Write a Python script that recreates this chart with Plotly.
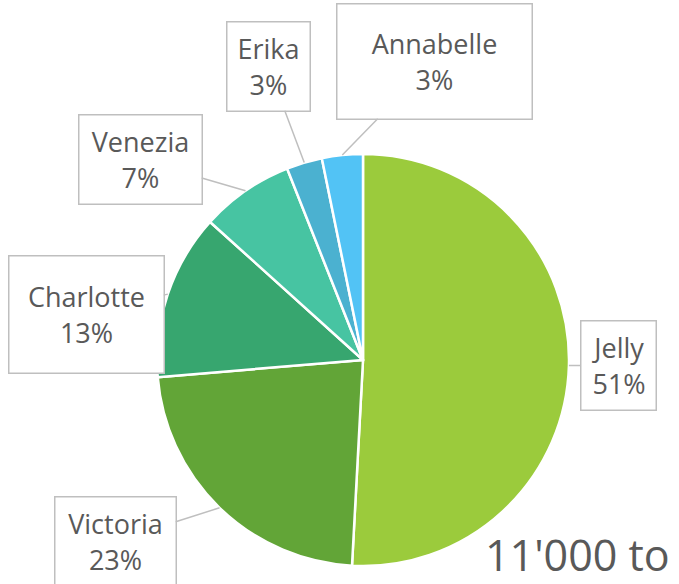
import math
import plotly.graph_objects as go

# ---- data ----
labels = ["Jelly", "Victoria", "Charlotte", "Venezia", "Erika", "Annabelle"]
values = [50.8, 22.8, 13.0, 7.3, 2.8, 3.2]
colors = ["#9BCB3C", "#62A537", "#37A66F", "#47C4A2", "#4BB1D0", "#52C3F5"]
title_text = "11'000 to"

# ---- layout / style constants ----
W, H = 679, 584
CX, CY, R = 363, 360, 206          # pie centre and radius in page pixels
# callout box centres (px) and sizes
box_center = {"Jelly": (618, 365), "Victoria": (115, 541), "Charlotte": (86, 314),
              "Venezia": (140, 160), "Erika": (268, 66), "Annabelle": (434, 61)}
box_size = {"Jelly": (72, 86), "Victoria": (118, 86), "Charlotte": (152, 114),
            "Venezia": (120, 86), "Erika": (80, 86), "Annabelle": (192, 112)}
TEXT = "#595959"
BORDER = "#BFBFBF"
FONT = "Open Sans"

fig = go.Figure(go.Pie(
    labels=labels, values=values, sort=False, direction="clockwise", rotation=0,
    marker=dict(colors=colors, line=dict(color="white", width=2.5)),
    textinfo="none", hoverinfo="label+percent", showlegend=False,
    domain=dict(x=[(CX - R) / W, (CX + R) / W], y=[(H - CY - R) / H, (H - CY + R) / H]),
))

total = sum(values)
annotations = []
cum = 0.0
for lab, v in zip(labels, values):
    mid = (cum + v / 2) / total * 2 * math.pi   # clockwise from 12 o'clock
    cum += v
    px = CX + R * math.sin(mid)
    py = CY - R * math.cos(mid)
    bx, by = box_center[lab]
    bw, bh = box_size[lab]
    pct = round(100 * v / total)
    annotations.append(dict(
        x=px / W, y=1 - py / H, xref="paper", yref="paper",
        ax=bx - px, ay=by - py, axref="pixel", ayref="pixel",
        text=f"{lab}<br>{pct}%", showarrow=True, arrowhead=0, arrowwidth=1.5,
        arrowcolor=BORDER, standoff=0, startstandoff=0,
        width=bw, height=bh, bgcolor="white", bordercolor=BORDER, borderwidth=1.5,
        font=dict(family=FONT, size=27, color=TEXT), align="center", valign="middle",
    ))

annotations.append(dict(
    x=484 / W, y=1 - 554 / H, xref="paper", yref="paper", xanchor="left", yanchor="middle",
    text=title_text, showarrow=False, borderpad=0,
    font=dict(family=FONT, size=43, color=TEXT),
))

fig.update_layout(
    width=W, height=H, margin=dict(l=0, r=0, t=0, b=0),
    paper_bgcolor="white", plot_bgcolor="white",
    annotations=annotations,
)

fig.write_html("out.html", config={"displayModeBar": False},
               post_script="document.body.style.margin='0';")
